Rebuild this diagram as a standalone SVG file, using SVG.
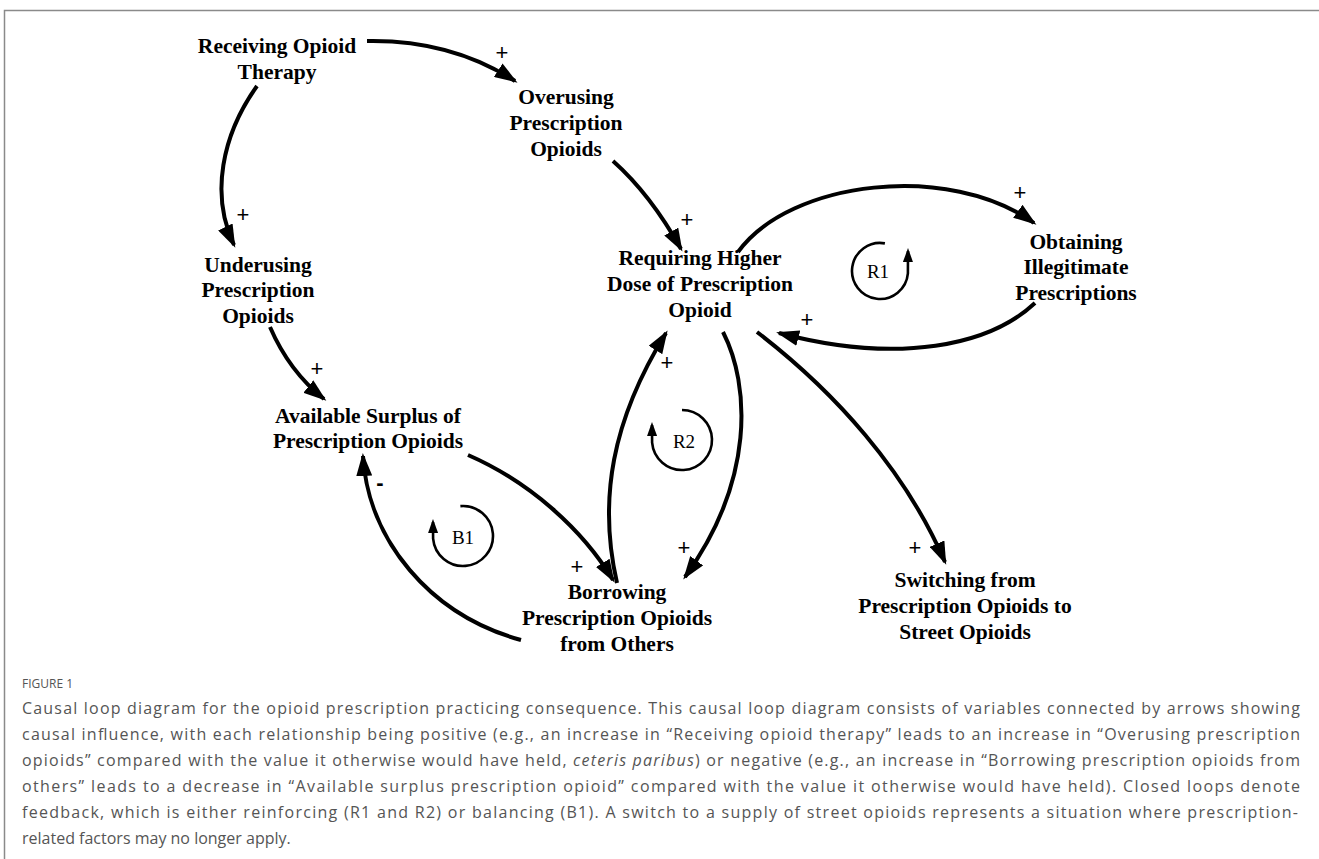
<svg xmlns="http://www.w3.org/2000/svg" width="1319" height="859" viewBox="0 0 1319 859">
<defs>
<style>
.n{font-family:"Liberation Serif","Times New Roman",serif;font-weight:bold;font-size:21.5px;fill:#000;text-anchor:middle}
.l{font-family:"Liberation Serif","Times New Roman",serif;font-size:19px;fill:#000;text-anchor:middle}
.s{font-family:"Liberation Sans",Arial,sans-serif;font-size:22px;fill:#000;text-anchor:middle}
.c{fill:none;stroke:#000;stroke-width:4;marker-end:url(#ah)}
.lp{fill:none;stroke:#000;stroke-width:2.6;marker-end:url(#ahs)}
.cap{font-family:"Open Sans","Liberation Sans",sans-serif;font-size:16px;fill:#555}
</style>
<marker id="ah" markerWidth="24" markerHeight="16" refX="20" refY="8" orient="auto" markerUnits="userSpaceOnUse"><path d="M0,0 L23,8 L0,16 z" fill="#000"/></marker>
<marker id="ahs" markerWidth="14" markerHeight="10" refX="11" refY="5" orient="auto" markerUnits="userSpaceOnUse"><path d="M0,0 L14,5 L0,10 z" fill="#000"/></marker>
</defs>
<rect width="1319" height="859" fill="#fff"/>
<path d="M4.5,859 V10.5 H1319" fill="none" stroke="#8a8a8a" stroke-width="1.5"/>

<g id="connectors">
<path class="c" d="M367,41 C420,40 470,52 515,81"/>
<path class="c" d="M257,86 C222,135 210,195 234,245"/>
<path class="c" d="M270,327 C283,357 300,380 324,399"/>
<path class="c" d="M613,161 C640,185 662,215 681,249"/>
<path class="c" d="M738,252 C790,180 950,162 1034,223"/>
<path class="c" d="M1035,303 C990,345 900,365 779,333"/>
<path class="c" d="M723,332 C750,385 755,480 685,577"/>
<path class="c" d="M617,583 C598,500 612,420 666,333"/>
<path class="c" d="M468,455 C530,482 583,530 613,580"/>
<path class="c" d="M521,640 C430,615 368,540 363,456"/>
<path class="c" d="M757,332 C835,392 905,470 945,562"/>
<text class="s" x="502" y="60">+</text>
<text class="s" x="243" y="222">+</text>
<text class="s" x="687" y="227">+</text>
<text class="s" x="1020" y="200">+</text>
<text class="s" x="807" y="327">+</text>
<text class="s" x="684" y="555">+</text>
<text class="s" x="667" y="370">+</text>
<text class="s" x="577" y="574">+</text>
<text class="s" x="915" y="555">+</text>
<text class="s" x="317" y="376">+</text>
<text class="s" x="380" y="490" style="font-weight:bold">-</text>
</g>

<g id="loop-R1">
<path class="lp" d="M884.9,243.4 A28,28 0 1 0 907.9,273.4 L908,251"/>
<text class="l" x="878" y="278">R1</text>
</g>
<g id="loop-R2">
<path class="lp" d="M682,410 A30,30 0 1 1 652.1,442.6 L652,425"/>
<text class="l" x="684" y="448">R2</text>
</g>
<g id="loop-B1">
<path class="lp" d="M460.4,506.1 A30,30 0 1 1 433.1,538.6 L433,522"/>
<text class="l" x="463" y="544">B1</text>
</g>

<g id="node-receiving"><text class="n" x="277" y="53">Receiving Opioid</text><text class="n" x="277" y="79">Therapy</text></g>
<g id="node-overusing"><text class="n" x="566" y="104">Overusing</text><text class="n" x="566" y="130">Prescription</text><text class="n" x="566" y="156">Opioids</text></g>
<g id="node-requiring"><text class="n" x="700" y="265">Requiring Higher</text><text class="n" x="700" y="291">Dose of Prescription</text><text class="n" x="700" y="317">Opioid</text></g>
<g id="node-obtaining"><text class="n" x="1076" y="249">Obtaining</text><text class="n" x="1076" y="274">Illegitimate</text><text class="n" x="1076" y="300">Prescriptions</text></g>
<g id="node-underusing"><text class="n" x="258" y="272">Underusing</text><text class="n" x="258" y="297">Prescription</text><text class="n" x="258" y="323">Opioids</text></g>
<g id="node-available"><text class="n" x="368" y="423">Available Surplus of</text><text class="n" x="368" y="448">Prescription Opioids</text></g>
<g id="node-borrowing"><text class="n" x="617" y="599">Borrowing</text><text class="n" x="617" y="625">Prescription Opioids</text><text class="n" x="617" y="651">from Others</text></g>
<g id="node-switching"><text class="n" x="965" y="587">Switching from</text><text class="n" x="965" y="613">Prescription Opioids to</text><text class="n" x="965" y="639">Street Opioids</text></g>

<g id="caption">
<text class="cap" x="22" y="688" style="font-size:12px">FIGURE 1</text>
<text class="cap" x="22" y="714" textLength="1278" lengthAdjust="spacing">Causal loop diagram for the opioid prescription practicing consequence. This causal loop diagram consists of variables connected by arrows showing</text>
<text class="cap" x="22" y="740" textLength="1278" lengthAdjust="spacing">causal influence, with each relationship being positive (e.g., an increase in “Receiving opioid therapy” leads to an increase in “Overusing prescription</text>
<text class="cap" x="22" y="766" textLength="1278" lengthAdjust="spacing">opioids” compared with the value it otherwise would have held, <tspan font-style="italic">ceteris paribus</tspan>) or negative (e.g., an increase in “Borrowing prescription opioids from</text>
<text class="cap" x="22" y="792" textLength="1278" lengthAdjust="spacing">others” leads to a decrease in “Available surplus prescription opioid” compared with the value it otherwise would have held). Closed loops denote</text>
<text class="cap" x="22" y="818" textLength="1276" lengthAdjust="spacing">feedback, which is either reinforcing (R1 and R2) or balancing (B1). A switch to a supply of street opioids represents a situation where prescription-</text>
<text class="cap" x="22" y="844">related factors may no longer apply.</text>
</g>
</svg>
